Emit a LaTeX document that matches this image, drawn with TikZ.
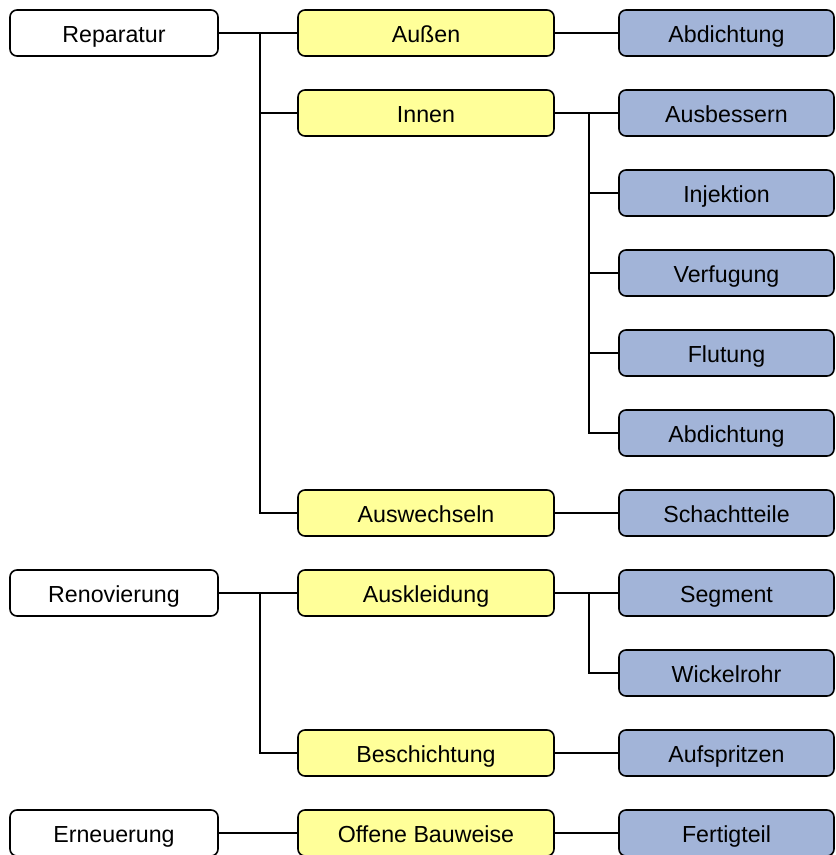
\documentclass[tikz,border=0pt]{standalone}
\usepackage{fontspec}
\setmainfont{Liberation Sans}
\begin{document}
\begin{tikzpicture}[x=1pt,y=-1pt,
  box/.style={draw=black, line width=1.6pt, rounded corners=7pt, minimum height=46pt,
    inner sep=0pt, font=\fontsize{23.2}{27}\selectfont, text=black,
    text height=19pt, text depth=1pt},
  topic/.style={box, fill=white, minimum width=208pt},
  method/.style={box, fill=yellowbox, minimum width=256pt},
  detail/.style={box, fill=bluebox, minimum width=215pt},
  link/.style={draw=black, line width=1.5pt}]
\definecolor{yellowbox}{HTML}{FFFF99}
\definecolor{bluebox}{HTML}{A2B4D8}
\useasboundingbox (0,0) rectangle (836,855);

% first column
\node[topic] (rep) at (114,33)  {Reparatur};
\node[topic] (ren) at (114,593) {Renovierung};
\node[topic] (ern) at (114,833) {Erneuerung};

% second column
\node[method] (aus)  at (426,33)  {Außen};
\node[method] (inn)  at (426,113) {Innen};
\node[method] (awe)  at (426,513) {Auswechseln};
\node[method] (akl)  at (426,593) {Auskleidung};
\node[method] (bes)  at (426,753) {Beschichtung};
\node[method] (off)  at (426,833) {Offene Bauweise};

% third column
\node[detail] (abd1) at (726.5,33)  {Abdichtung};
\node[detail] (abs)  at (726.5,113) {Ausbessern};
\node[detail] (inj)  at (726.5,193) {Injektion};
\node[detail] (ver)  at (726.5,273) {Verfugung};
\node[detail] (flu)  at (726.5,353) {Flutung};
\node[detail] (abd2) at (726.5,433) {Abdichtung};
\node[detail] (sch)  at (726.5,513) {Schachtteile};
\node[detail] (seg)  at (726.5,593) {Segment};
\node[detail] (wic)  at (726.5,673) {Wickelrohr};
\node[detail] (auf)  at (726.5,753) {Aufspritzen};
\node[detail] (fer)  at (726.5,833) {Fertigteil};

% connectors, first to second column
\foreach \c in {aus,inn,awe}
  \draw[link] (rep.east) -- ++(41,0) |- (\c.west);
\foreach \c in {akl,bes}
  \draw[link] (ren.east) -- ++(41,0) |- (\c.west);
\draw[link] (ern.east) -- (off.west);

% connectors, second to third column
\draw[link] (aus.east) -- (abd1.west);
\foreach \c in {abs,inj,ver,flu,abd2}
  \draw[link] (inn.east) -- ++(34,0) |- (\c.west);
\draw[link] (awe.east) -- (sch.west);
\foreach \c in {seg,wic}
  \draw[link] (akl.east) -- ++(34,0) |- (\c.west);
\draw[link] (bes.east) -- (auf.west);
\draw[link] (off.east) -- (fer.west);
\end{tikzpicture}
\end{document}
